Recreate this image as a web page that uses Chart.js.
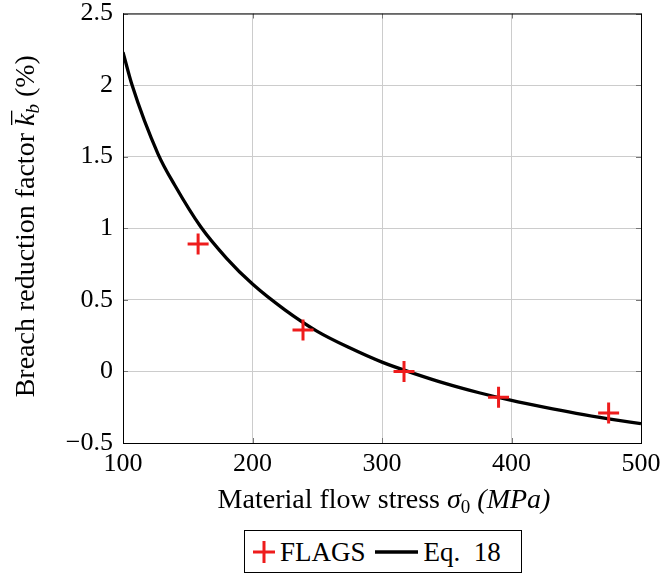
<!DOCTYPE html>
<html>
<head>
<meta charset="utf-8">
<script src="https://cdn.jsdelivr.net/npm/chart.js@4.4.1/dist/chart.umd.min.js"></script>
<style>
  body { margin: 0; background: #fff; }
  #wrap { position: relative; width: 663px; height: 575px; }
  #legend {
    position: absolute; left: 244px; top: 530px; width: 278px; height: 43px; box-sizing: border-box;
    border: 1px solid #000; display: flex; align-items: center; padding-left: 8px;
    font: 27px "Liberation Serif", serif; color: #000; line-height: 1;
  }
  #legend svg { display: block; }
</style>
</head>
<body>
<div id="wrap">
  <canvas id="chart" width="663" height="526"></canvas>
  <div id="legend">
    <svg width="22" height="22"><path d="M11 0V22M0 11H22" stroke="#ee1c1c" stroke-width="3"/></svg>
    <span style="margin:2px 0 0 5px">FLAGS</span>
    <svg width="43" height="6" style="margin-left:9px"><path d="M0 3H43" stroke="#000" stroke-width="3.5"/></svg>
    <span style="margin:2px 0 0 6px">Eq.&nbsp; 18</span>
  </div>
</div>
<script>
// FLAGS results
const flagsStress = [158, 239, 317, 390, 475];
const flagsFactor = [0.89, 0.29, 0.0, -0.18, -0.29];

// Eq. 18 curve
const eqStress = [100, 107, 127, 140, 160, 180, 200, 225, 250, 275, 300, 325, 350, 375, 400, 425, 450, 475, 500];
const eqFactor = [2.23, 2.0, 1.52, 1.3, 1.01, 0.79, 0.61, 0.43, 0.28, 0.165, 0.065, -0.015, -0.087, -0.149, -0.203, -0.25, -0.293, -0.331, -0.365];

const xTicks = [100, 200, 300, 400, 500];
const yTicks = [-0.5, 0, 0.5, 1, 1.5, 2, 2.5];

const serif = '"Liberation Serif", serif';

const toPoints = (xs, ys) => xs.map((x, i) => ({ x: x, y: ys[i] }));

// draw a run of text pieces with different fonts along the baseline
function drawPieces(ctx, pieces, cx, cy) {
  let total = 0;
  pieces.forEach(p => { ctx.font = p.font; p.w = ctx.measureText(p.text).width; total += p.w; });
  let x = cx - total / 2;
  pieces.forEach(p => {
    ctx.font = p.font;
    ctx.fillText(p.text, x, cy + (p.dy || 0));
    if (p.overline) {
      ctx.fillRect(x + 1, cy - 23, p.w + 2, 1.3);
    }
    x += p.w;
  });
}

const framePlugin = {
  id: 'frame',
  afterDraw(chart) {
    const { ctx, chartArea: a, scales } = chart;
    ctx.save();
    // inward tick marks on all four sides
    ctx.strokeStyle = '#777';
    ctx.lineWidth = 1;
    ctx.beginPath();
    xTicks.forEach(v => {
      const px = Math.round(scales.x.getPixelForValue(v)) + 0.5;
      ctx.moveTo(px, a.bottom); ctx.lineTo(px, a.bottom - 5);
      ctx.moveTo(px, a.top); ctx.lineTo(px, a.top + 5);
    });
    yTicks.forEach(v => {
      const py = Math.round(scales.y.getPixelForValue(v)) + 0.5;
      ctx.moveTo(a.left, py); ctx.lineTo(a.left + 5, py);
      ctx.moveTo(a.right, py); ctx.lineTo(a.right - 5, py);
    });
    ctx.stroke();

    ctx.strokeStyle = '#000';
    ctx.strokeRect(a.left + 0.5, a.top + 0.5, a.right - a.left, a.bottom - a.top);

    ctx.fillStyle = '#000';
    ctx.textBaseline = 'alphabetic';
    ctx.textAlign = 'left';
    // x axis title
    drawPieces(ctx, [
      { text: 'Material flow stress ', font: '28px ' + serif },
      { text: 'σ', font: 'italic 28px ' + serif },
      { text: '0', font: '19px ' + serif, dy: 5 },
      { text: ' (MPa)', font: 'italic 28px ' + serif }
    ], (a.left + a.right) / 2 + 2, 508);

    // y axis title
    ctx.translate(34, (a.top + a.bottom) / 2 - 2);
    ctx.rotate(-Math.PI / 2);
    drawPieces(ctx, [
      { text: 'Breach reduction factor ', font: '28px ' + serif },
      { text: 'k', font: 'italic 28px ' + serif, overline: true },
      { text: 'b', font: 'italic 19px ' + serif, dy: 5 },
      { text: ' (%)', font: '28px ' + serif }
    ], 0, 0);
    ctx.restore();
  }
};

new Chart(document.getElementById('chart'), {
  type: 'scatter',
  data: {
    datasets: [
      {
        label: 'FLAGS',
        data: toPoints(flagsStress, flagsFactor),
        pointStyle: 'cross',
        pointRadius: 10.5,
        pointBorderWidth: 3,
        borderColor: '#ee1c1c',
        backgroundColor: '#ee1c1c'
      },
      {
        label: 'Eq. 18',
        data: toPoints(eqStress, eqFactor),
        showLine: true,
        pointRadius: 0,
        borderColor: '#000',
        borderWidth: 3.3,
        cubicInterpolationMode: 'monotone'
      }
    ]
  },
  options: {
    responsive: false,
    animation: false,
    layout: { padding: { top: 13, right: 22, left: 0, bottom: 0 } },
    plugins: {
      legend: { display: false },
      tooltip: { enabled: false }
    },
    scales: {
      x: {
        type: 'linear',
        min: 100, max: 500,
        afterBuildTicks: s => { s.ticks = xTicks.map(v => ({ value: v })); },
        afterFit: s => { s.height = 83; s.paddingLeft = 0; s.paddingRight = 0; },
        grid: { color: '#cccccc', drawTicks: false },
        border: { color: '#000' },
        ticks: { padding: 6, color: '#000', font: { family: serif, size: 26 } }
      },
      y: {
        min: -0.5, max: 2.5,
        afterBuildTicks: s => { s.ticks = yTicks.map(v => ({ value: v })); },
        afterFit: s => { s.width = 123; s.paddingTop = 0; s.paddingBottom = 0; },
        grid: { color: '#cccccc', drawTicks: false },
        border: { color: '#000' },
        ticks: {
          padding: 10, color: '#000', font: { family: serif, size: 26 },
          callback: v => String(v).replace('-', '\u2212')
        }
      }
    }
  },
  plugins: [framePlugin]
});
</script>
</body>
</html>
